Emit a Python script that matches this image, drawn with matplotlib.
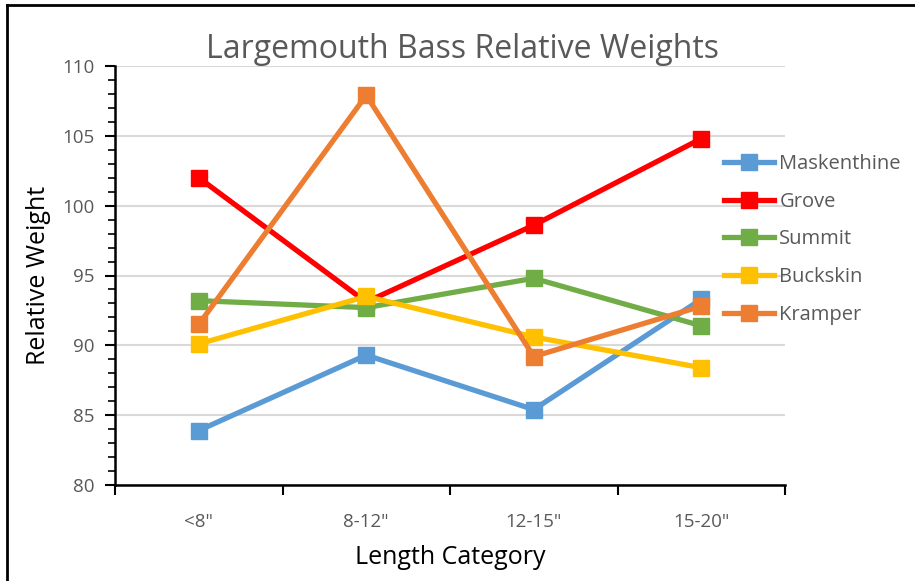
import numpy as np
import matplotlib.pyplot as plt
from matplotlib.lines import Line2D
from matplotlib.ticker import MultipleLocator

categories = ['<8"', '8-12"', '12-15"', '15-20"']
maskenthine = [83.9, 89.3, 85.4, 93.3]
grove = [102.0, 93.1, 98.6, 104.8]
summit = [93.2, 92.7, 94.8, 91.4]
buckskin = [90.1, 93.5, 90.6, 88.4]
kramper = [91.5, 107.9, 89.2, 92.8]

names = ['Maskenthine', 'Grove', 'Summit', 'Buckskin', 'Kramper']
series = [maskenthine, grove, summit, buckskin, kramper]
colors = ['#5B9BD5', '#FF0000', '#70AD47', '#FFC000', '#ED7D31']

plt.rcParams['font.family'] = ['Open Sans', 'DejaVu Sans']
gray = '#595959'

fig = plt.figure(figsize=(9.15, 5.81), dpi=100)
ax = fig.add_axes([115 / 915, 96 / 581, 670 / 915, 419 / 581])

x = np.arange(len(categories))
for name, vals, c in zip(names, series, colors):
    ax.plot(x, vals, color=c, lw=3.8, marker='s', ms=11, label=name,
            solid_joinstyle='round', solid_capstyle='round')

ax.set_xlim(-0.5, len(categories) - 0.5)
ax.set_ylim(80, 110)
ax.set_xticks(x)
ax.set_xticklabels(categories)
ax.set_xticks(np.arange(-0.5, len(categories), 1), minor=True)
ax.tick_params(axis='x', which='major', length=0, pad=20, labelsize=13.5, labelcolor=gray)
ax.tick_params(axis='x', which='minor', length=7, width=1.5, direction='out')
ax.yaxis.set_major_locator(MultipleLocator(5))
ax.yaxis.set_minor_locator(MultipleLocator(1))
ax.tick_params(axis='y', which='major', length=7, width=1.5, labelsize=13.5, labelcolor=gray, pad=8)
ax.tick_params(axis='y', which='minor', length=5, width=1.2)
ax.grid(axis='y', which='major', color='#D9D9D9', lw=1.5)
ax.set_axisbelow(True)
for s in ['top', 'right']:
    ax.spines[s].set_visible(False)
for s in ['left', 'bottom']:
    ax.spines[s].set_linewidth(1.8)

ax.set_ylabel('Relative Weight', fontsize=18, labelpad=8)
ax.set_xlabel('Length Category', fontsize=18, labelpad=10)
fig.text(463 / 915, 1 - 50 / 581, 'Largemouth Bass Relative Weights', fontsize=23,
         color=gray, ha='center', va='center')

handles = [Line2D([], [], color=c, lw=3.8, marker='s', ms=11) for c in colors]
leg = fig.legend(handles, names, loc='upper left', bbox_to_anchor=(716 / 915, 1 - 146 / 581),
                 frameon=False, fontsize=14.5, handlelength=2.5, labelspacing=0.88,
                 handletextpad=0.25, borderaxespad=0)
for t in leg.get_texts():
    t.set_color(gray)

fig.add_artist(Line2D([7 / 915, 7 / 915], [0, 1 - 5 / 581], color='black', lw=2))
fig.add_artist(Line2D([7 / 915, 1], [1 - 5 / 581, 1 - 5 / 581], color='black', lw=2))

fig.savefig('out.png', dpi=100)
